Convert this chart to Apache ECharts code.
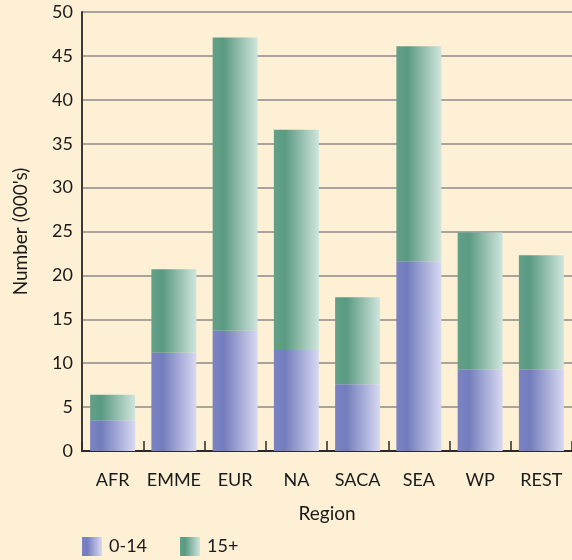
<!DOCTYPE html>
<html>
<head>
<meta charset="utf-8">
<script src="https://cdn.jsdelivr.net/npm/echarts@6/dist/echarts.min.js"></script>
<style>
  html, body { margin: 0; padding: 0; background: #fef0d5; }
  #chart { width: 572px; height: 560px; }
</style>
</head>
<body>
<div id="chart"></div>
<script>
// Regions along the x axis
const regions = ['AFR', 'EMME', 'EUR', 'NA', 'SACA', 'SEA', 'WP', 'REST'];
// Numbers in thousands, by age group (stacked)
const age0to14 = [3.5, 11.2, 13.7, 11.5, 7.6, 21.6, 9.3, 9.3];
const age15plus = [2.9, 9.5, 33.4, 25.1, 9.9, 24.5, 15.6, 13.0];
const seriesNames = ['0-14', '15+'];
const yTicks = { min: 0, max: 50, step: 5 };

const FONT = 'Lato, "Open Sans", sans-serif';
const TEXT = '#1a1a1a';

function hGradient(stops) {
  return new echarts.graphic.LinearGradient(0, 0, 1, 0,
    stops.map(s => ({ offset: s[0], color: s[1] })));
}

const blueFill = hGradient([[0, '#7a82c2'], [0.25, '#737dbd'], [1, '#d8d9f2']]);
const greenFill = hGradient([[0, '#62a088'], [0.25, '#5b9a82'], [1, '#d0e5dd']]);

const chart = echarts.init(document.getElementById('chart'));
chart.setOption({
  backgroundColor: '#fef0d5',
  animation: false,
  textStyle: { fontFamily: FONT, color: TEXT },
  grid: { left: 82, right: -1, top: 12, bottom: 109, containLabel: false },
  legend: {
    left: 82, top: 537, padding: 0,
    icon: 'rect',
    itemWidth: 20, itemHeight: 19, itemGap: 33,
    textStyle: { fontFamily: FONT, fontSize: 18, color: TEXT, padding: [0, 0, 0, 2] },
    data: seriesNames
  },
  xAxis: {
    type: 'category',
    data: regions,
    name: 'Region',
    nameLocation: 'middle',
    nameGap: 53,
    nameTextStyle: { fontFamily: FONT, fontSize: 19, color: TEXT },
    axisLine: { lineStyle: { color: '#2a2a2a', width: 2 } },
    axisTick: { show: true, inside: true, length: 10, lineStyle: { color: '#2a2a2a', width: 1.5 } },
    axisLabel: { interval: 0, fontFamily: FONT, fontSize: 18, color: TEXT, margin: 20 }
  },
  yAxis: {
    type: 'value',
    min: yTicks.min, max: yTicks.max, interval: yTicks.step,
    name: "Number (000's)",
    nameLocation: 'middle',
    nameGap: 52,
    nameTextStyle: { fontFamily: FONT, fontSize: 19, color: TEXT },
    axisLine: { show: true, lineStyle: { color: '#3a3a3a', width: 2 } },
    axisTick: { show: false },
    axisLabel: { fontFamily: FONT, fontSize: 18, color: TEXT, margin: 9 },
    splitLine: { show: true, lineStyle: { color: '#8a8a8a', width: 1.5 } }
  },
  series: [
    {
      name: seriesNames[0], type: 'bar', stack: 'total',
      barWidth: 45,
      itemStyle: { color: blueFill },
      data: age0to14
    },
    {
      name: seriesNames[1], type: 'bar', stack: 'total',
      barWidth: 45,
      itemStyle: { color: greenFill },
      data: age15plus
    }
  ]
});
</script>
</body>
</html>
